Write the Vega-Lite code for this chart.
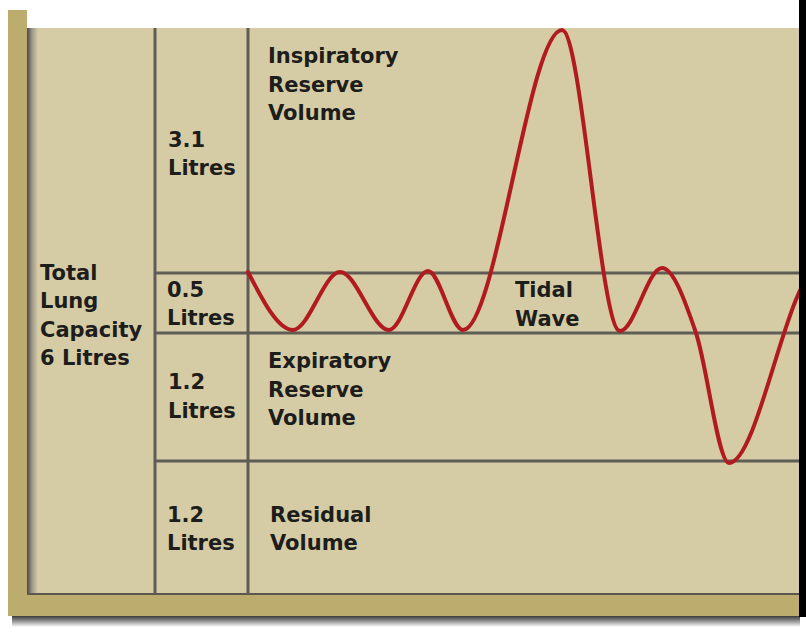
{
  "$schema": "https://vega.github.io/schema/vega-lite/v6.json",
  "width": 806,
  "height": 636,
  "autosize": {"type": "fit", "contains": "padding"},
  "padding": 0,
  "background": "#ffffff",
  "config": {"view": {"stroke": null}},
  "datasets": {
    "shadowBottom": [{"x": 12, "x2": 800, "y": 616, "y2": 627}],
    "olive": [{"x": 8, "x2": 27, "y": 10, "y2": 616}, {"x": 8, "x2": 800, "y": 594, "y2": 616}],
    "panel": [{"x": 27, "x2": 800, "y": 28, "y2": 594}],
    "shadowLeft": [{"x": 27, "x2": 38, "y": 28, "y2": 594}],
    "edge": [{"x": 27, "x2": 800, "y": 594}],
    "vlines": [{"x": 155, "y": 28, "y2": 594}, {"x": 248, "y": 28, "y2": 594}],
    "hlines": [{"x": 155, "x2": 800, "y": 273}, {"x": 155, "x2": 800, "y": 333}, {"x": 155, "x2": 800, "y": 461}],
    "curve": [
      {"x": 248, "y": 272}, {"x": 293, "y": 330}, {"x": 340, "y": 272},
      {"x": 389, "y": 330}, {"x": 428, "y": 271},
      {"x": 463, "y": 330}, {"x": 562, "y": 30},
      {"x": 620, "y": 331}, {"x": 662, "y": 268}, {"x": 696, "y": 333},
      {"x": 729, "y": 463}, {"x": 818, "y": 270}, {"x": 860, "y": 330}
    ],
    "labels": [
      {"x": 40, "y": 280, "t": "Total"}, {"x": 40, "y": 308, "t": "Lung"}, {"x": 40, "y": 337, "t": "Capacity"}, {"x": 40, "y": 365, "t": "6 Litres"},
      {"x": 168, "y": 147, "t": "3.1"}, {"x": 168, "y": 175, "t": "Litres"},
      {"x": 268, "y": 63, "t": "Inspiratory"}, {"x": 268, "y": 92, "t": "Reserve"}, {"x": 268, "y": 120, "t": "Volume"},
      {"x": 167, "y": 297, "t": "0.5"}, {"x": 167, "y": 325, "t": "Litres"},
      {"x": 515, "y": 297, "t": "Tidal"}, {"x": 515, "y": 326, "t": "Wave"},
      {"x": 168, "y": 389, "t": "1.2"}, {"x": 168, "y": 418, "t": "Litres"},
      {"x": 268, "y": 368, "t": "Expiratory"}, {"x": 268, "y": 397, "t": "Reserve"}, {"x": 268, "y": 425, "t": "Volume"},
      {"x": 167, "y": 522, "t": "1.2"}, {"x": 167, "y": 550, "t": "Litres"},
      {"x": 270, "y": 522, "t": "Residual"}, {"x": 270, "y": 550, "t": "Volume"}
    ],
    "rightEdge": [{"x": 799, "x2": 806, "y": 0, "y2": 617}]
  },
  "encoding": {
    "x": {"field": "x", "type": "quantitative", "scale": {"domain": [0, 806], "nice": false, "zero": false}, "axis": null},
    "y": {"field": "y", "type": "quantitative", "scale": {"domain": [0, 636], "nice": false, "zero": false, "reverse": true}, "axis": null}
  },
  "layer": [
    {
      "data": {"name": "shadowBottom"},
      "mark": {"type": "rect", "color": {"gradient": "linear", "x1": 0, "y1": 0, "x2": 0, "y2": 1, "stops": [{"offset": 0, "color": "#3a3a3a"}, {"offset": 0.5, "color": "#9a9a9a"}, {"offset": 1, "color": "#ffffff"}]}},
      "encoding": {"x2": {"field": "x2"}, "y2": {"field": "y2"}}
    },
    {
      "data": {"name": "olive"},
      "mark": {"type": "rect", "color": "#bcac6d"},
      "encoding": {"x2": {"field": "x2"}, "y2": {"field": "y2"}}
    },
    {
      "data": {"name": "panel"},
      "mark": {"type": "rect", "color": "#d5cca6"},
      "encoding": {"x2": {"field": "x2"}, "y2": {"field": "y2"}}
    },
    {
      "data": {"name": "shadowLeft"},
      "mark": {"type": "rect", "color": {"gradient": "linear", "x1": 0, "y1": 0, "x2": 1, "y2": 0, "stops": [{"offset": 0, "color": "#46464a"}, {"offset": 0.45, "color": "#9c9788"}, {"offset": 1, "color": "#d5cca6"}]}},
      "encoding": {"x2": {"field": "x2"}, "y2": {"field": "y2"}}
    },
    {
      "data": {"name": "edge"},
      "mark": {"type": "rule", "color": "#5a584e", "strokeWidth": 2},
      "encoding": {"x2": {"field": "x2"}}
    },
    {
      "data": {"name": "vlines"},
      "mark": {"type": "rule", "color": "#5f5d55", "strokeWidth": 3},
      "encoding": {"y2": {"field": "y2"}}
    },
    {
      "data": {"name": "hlines"},
      "mark": {"type": "rule", "color": "#5f5d55", "strokeWidth": 3},
      "encoding": {"x2": {"field": "x2"}}
    },
    {
      "data": {"name": "curve"},
      "mark": {"type": "line", "clip": true, "color": "#b11b20", "strokeWidth": 4, "interpolate": "monotone", "strokeCap": "round", "strokeJoin": "round"},
      "encoding": {"order": {"field": "x", "type": "quantitative"}}
    },
    {
      "data": {"name": "labels"},
      "mark": {"type": "text", "align": "left", "baseline": "alphabetic", "font": "DejaVu Sans", "fontWeight": "bold", "fontSize": 21, "color": "#1d1d1b"},
      "encoding": {"text": {"field": "t", "type": "nominal"}}
    },
    {
      "data": {"name": "rightEdge"},
      "mark": {"type": "rect", "color": "#000000"},
      "encoding": {"x2": {"field": "x2"}, "y2": {"field": "y2"}}
    }
  ]
}
